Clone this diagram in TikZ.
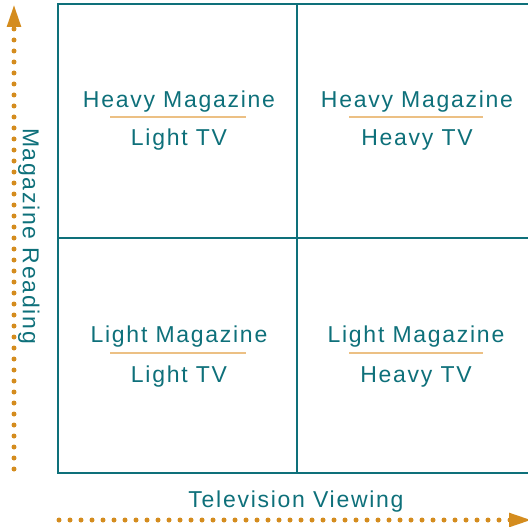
\documentclass[tikz,border=0pt]{standalone}
\usepackage{fontspec}
\newfontfamily\quadfont{Liberation Sans}[LetterSpace=7.5]
\usetikzlibrary{arrows.meta}
\definecolor{teal}{RGB}{14,112,122}
\definecolor{dotorange}{RGB}{212,140,30}
\definecolor{barorange}{RGB}{236,192,132}

\tikzset{
  gridline/.style={draw=teal,line width=1.4pt},
  quadtext/.style={text=teal,font=\quadfont\fontsize{23}{27}\selectfont,
    inner sep=0pt,anchor=base},
  quadbar/.style={draw=barorange,line width=2.6pt},
  axisarrow/.style={draw=dotorange,line width=5pt,line cap=round,
    dash pattern=on 0pt off 11pt,
    -{Triangle[length=23pt,width=13pt]}}
}

\begin{document}
\begin{tikzpicture}[x=1pt,y=-1pt]
  \useasboundingbox (0,0) rectangle (528,527);

  % the four quadrants
  \draw[gridline] (58,4) rectangle (540,473);
  \draw[gridline] (297,4) -- (297,473);
  \draw[gridline] (58,238) -- (540,238);

  \node[quadtext] (hmag1) at (179,107.5) {Heavy Magazine};
  \node[quadtext] (ltv1)  at (179,145) {Light TV};
  \node[quadtext] (hmag2) at (417,107.5) {Heavy Magazine};
  \node[quadtext] (htv2)  at (417,145) {Heavy TV};
  \node[quadtext] (lmag3) at (179,342.5) {Light Magazine};
  \node[quadtext] (ltv3)  at (179,382.5) {Light TV};
  \node[quadtext] (lmag4) at (416,342.5) {Light Magazine};
  \node[quadtext] (htv4)  at (416,382.5) {Heavy TV};

  \draw[quadbar] (110,117) -- (246,117);
  \draw[quadbar] (349,117) -- (483,117);
  \draw[quadbar] (110,353) -- (246,353);
  \draw[quadbar] (349,353) -- (483,353);

  % axes
  \coordinate (yfoot) at (14,469);
  \coordinate (ytop)  at (14,4);
  \coordinate (xfoot) at (59,520);
  \coordinate (xend)  at (532,520);
  \draw[axisarrow] (yfoot) -- (ytop);
  \draw[axisarrow] (xfoot) -- (xend);

  \node[quadtext] (xlabel) at (296,507.5) {Television Viewing};
  \node[quadtext,rotate=-90] (ylabel) at (23,236) {Magazine Reading};
\end{tikzpicture}
\end{document}
